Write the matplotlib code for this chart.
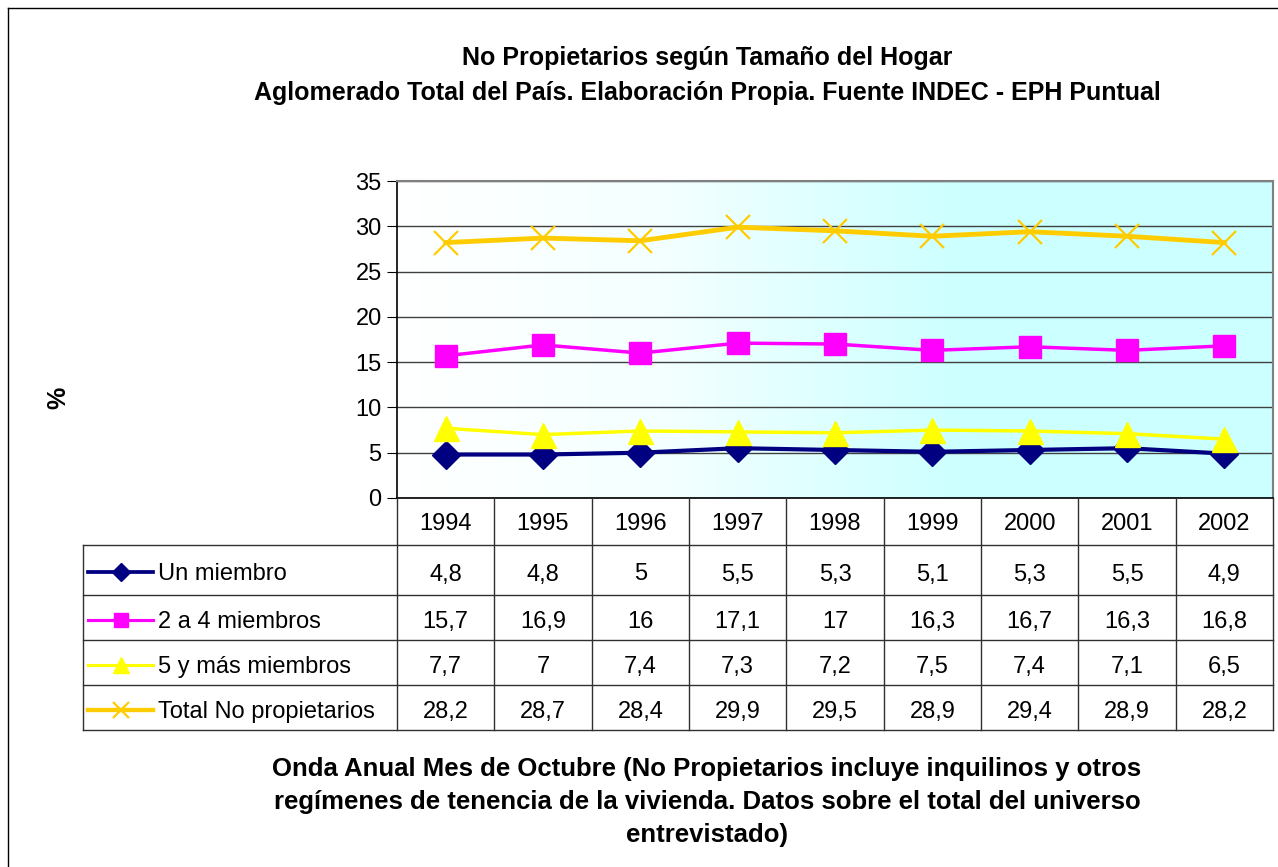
import matplotlib.pyplot as plt
import numpy as np
from matplotlib.lines import Line2D
from matplotlib.colors import LinearSegmentedColormap

years = ['1994', '1995', '1996', '1997', '1998', '1999', '2000', '2001', '2002']
un_miembro = [4.8, 4.8, 5.0, 5.5, 5.3, 5.1, 5.3, 5.5, 4.9]
dos_a_cuatro = [15.7, 16.9, 16.0, 17.1, 17.0, 16.3, 16.7, 16.3, 16.8]
cinco_y_mas = [7.7, 7.0, 7.4, 7.3, 7.2, 7.5, 7.4, 7.1, 6.5]
total_no_prop = [28.2, 28.7, 28.4, 29.9, 29.5, 28.9, 29.4, 28.9, 28.2]
series_names = ['Un miembro', '2 a 4 miembros', '5 y más miembros', 'Total No propietarios']

plt.rcParams['font.family'] = ['Liberation Sans', 'DejaVu Sans']

W, H = 1278, 867
fig = plt.figure(figsize=(W / 100, H / 100), dpi=100)


def fx(px):
    return px / W


def fy(py):
    return 1 - py / H


# marco exterior
fig.add_artist(Line2D([fx(8), fx(8)], [fy(8), fy(H)], color='black', lw=1))
fig.add_artist(Line2D([fx(8), fx(W)], [fy(8), fy(8)], color='black', lw=1))

# titulos
fig.text(fx(707), fy(58), 'No Propietarios según Tamaño del Hogar', ha='center', va='center',
         fontsize=18, fontweight='bold')
fig.text(fx(707), fy(93), 'Aglomerado Total del País. Elaboración Propia. Fuente INDEC - EPH Puntual',
         ha='center', va='center', fontsize=18, fontweight='bold')
fig.text(fx(58), fy(398), '%', rotation=90, ha='center', va='center', fontsize=18, fontweight='bold')
bottom_lines = ['Onda Anual Mes de Octubre (No Propietarios incluye inquilinos y otros',
                'regímenes de tenencia de la vivienda. Datos sobre el total del universo',
                'entrevistado)']
for i, t in enumerate(bottom_lines):
    fig.text(fx(707), fy(769 + 33 * i), t, ha='center', va='center', fontsize=18.5, fontweight='bold')

# area del grafico
left, right, top, bottom = 397, 1273, 181, 498
ax = fig.add_axes([fx(left), fy(bottom), fx(right - left), (bottom - top) / H])
x = np.arange(len(years))
ax.set_xlim(-0.5, len(years) - 0.5)
ax.set_ylim(0, 35)

cmap = LinearSegmentedColormap.from_list('bg', [(0, '#FFFFFF'), (0.3, '#F4FFFF'), (0.65, '#CCFFFF'), (1, '#CCFFFF')])
grad = np.linspace(0, 1, 256).reshape(1, -1)
ax.imshow(grad, cmap=cmap, aspect='auto', extent=[-0.5, len(years) - 0.5, 0, 35], zorder=0)

ax.set_yticks(range(0, 36, 5))
ax.yaxis.grid(True, color='#404040', lw=1, zorder=1)
ax.set_xticks([])
ax.tick_params(axis='y', direction='out', length=7, labelsize=17, pad=4)
for s in ['top', 'right']:
    ax.spines[s].set_color('#808080')
    ax.spines[s].set_linewidth(1.5)
ax.spines['left'].set_linewidth(1.2)
ax.spines['bottom'].set_linewidth(1.2)

styles = [
    dict(color='#000080', marker='D', ms=14, lw=3, mec='#000080', mew=1),
    dict(color='#FF00FF', marker='s', ms=16, lw=2.5, mec='#FF00FF', mew=1),
    dict(color='#FFFF00', marker='^', ms=18, lw=2.5, mec='#FFFF00', mew=1),
    dict(color='#FFCC00', marker='x', ms=17, lw=3.5, mec='#FFCC00', mew=1.6),
]
all_series = [un_miembro, dos_a_cuatro, cinco_y_mas, total_no_prop]
for vals, st in zip(all_series, styles):
    ax.plot(x, vals, clip_on=False, zorder=3, **st)

# tabla de datos
col_w = (right - left) / len(years)
row_y = [498, 545, 595, 640, 685, 730]
tbl_left = 83
lc = '#303030'
for y in row_y[1:]:
    fig.add_artist(Line2D([fx(tbl_left), fx(right)], [fy(y), fy(y)], color=lc, lw=1))
fig.add_artist(Line2D([fx(tbl_left), fx(tbl_left)], [fy(545), fy(730)], color=lc, lw=1))
for i in range(len(years) + 1):
    xx = left + i * col_w
    fig.add_artist(Line2D([fx(xx), fx(xx)], [fy(498), fy(730)], color=lc, lw=1))

for i, yr in enumerate(years):
    cx = left + (i + 0.5) * col_w
    fig.text(fx(cx), fy(522), yr, ha='center', va='center_baseline', fontsize=17)

for r, (name, vals, st) in enumerate(zip(series_names, all_series, styles)):
    cy = (row_y[r + 1] + row_y[r + 2]) / 2 + 2
    fig.add_artist(Line2D([fx(88), fx(153)], [fy(cy), fy(cy)], color=st['color'], lw=st['lw'] * 0.9))
    fig.add_artist(Line2D([fx(120.5)], [fy(cy)], linestyle='none', marker=st['marker'],
                          ms=st['ms'] * 0.65, color=st['color'], mec=st['mec'], mew=st['mew']))
    fig.text(fx(158), fy(cy), name, ha='left', va='center_baseline', fontsize=17)
    for i, v in enumerate(vals):
        cx = left + (i + 0.5) * col_w
        txt = ('%g' % v).replace('.', ',')
        fig.text(fx(cx), fy(cy), txt, ha='center', va='center_baseline', fontsize=17)

fig.savefig('out.png', dpi=100)
